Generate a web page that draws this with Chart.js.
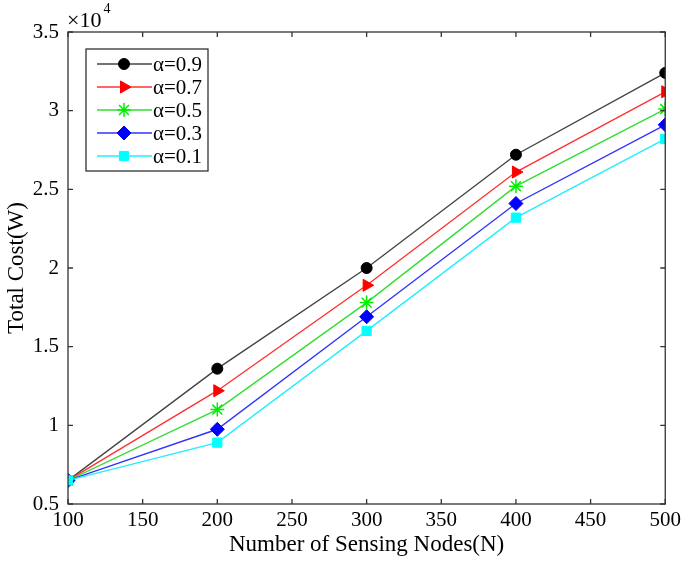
<!DOCTYPE html>
<html>
<head>
<meta charset="utf-8">
<script src="https://cdn.jsdelivr.net/npm/chart.js@4.4.0/dist/chart.umd.min.js"></script>
<style>
  html, body { margin: 0; padding: 0; background: #fff; }
  #wrap { width: 685px; height: 562px; }
</style>
</head>
<body>
<div id="wrap"><canvas id="costChart" width="685" height="562"></canvas></div>
<script>
// sensing nodes on the x axis
const nodes = [100, 200, 300, 400, 500];

// total cost (W) per alpha
const alpha09 = [6500, 13600, 20000, 27200, 32400];
const alpha07 = [6500, 12200, 18900, 26100, 31200];
const alpha05 = [6500, 11000, 17800, 25200, 30100];
const alpha03 = [6500, 9750, 16900, 24100, 29100];
const alpha01 = [6500, 8900, 16000, 23200, 28200];

const seriesLabels = ['α=0.9', 'α=0.7', 'α=0.5', 'α=0.3', 'α=0.1'];
const yTickLabels = ['0.5', '1', '1.5', '2', '2.5', '3', '3.5'];

const serif = "'Liberation Serif', 'Times New Roman', serif";

function pts(values) {
    return nodes.map((n, i) => ({ x: n, y: values[i] }));
}

function makeSet(label, values, color, lineColor, style, radius, rotation, order) {
    return {
        label: label,
        data: pts(values),
        borderColor: lineColor,
        backgroundColor: color,
        pointBackgroundColor: color,
        pointBorderColor: color,
        pointStyle: style,
        pointRadius: radius,
        pointHoverRadius: radius,
        pointRotation: rotation,
        pointBorderWidth: style === 'star' ? 1.5 : 1,
        borderWidth: 1.4,
        tension: 0,
        order: order
    };
}

const datasets = [
    makeSet(seriesLabels[0], alpha09, '#000000', '#444444', 'circle', 5.5, 0, 5),
    makeSet(seriesLabels[1], alpha07, '#ff0000', '#ff3333', 'triangle', 7, 90, 4),
    makeSet(seriesLabels[2], alpha05, '#00ee00', '#33dd33', 'star', 7, 0, 3),
    makeSet(seriesLabels[3], alpha03, '#0000ff', '#3333ff', 'rectRot', 7, 0, 2),
    makeSet(seriesLabels[4], alpha01, '#00ffff', '#22eeff', 'rect', 6.5, 0, 1)
];

// box frame, inward ticks on all four sides, x10^4 label and legend
const matlabFrame = {
    id: 'matlabFrame',
    afterDraw(c) {
        const ctx = c.ctx;
        const a = c.chartArea;
        const xs = c.scales.x;
        const ys = c.scales.y;
        ctx.save();
        ctx.strokeStyle = '#333';
        ctx.lineWidth = 1.3;
        ctx.strokeRect(a.left, a.top, a.right - a.left, a.bottom - a.top);
        ctx.beginPath();
        xs.ticks.forEach(t => {
            const px = xs.getPixelForValue(t.value);
            ctx.moveTo(px, a.bottom); ctx.lineTo(px, a.bottom - 5);
            ctx.moveTo(px, a.top); ctx.lineTo(px, a.top + 5);
        });
        ys.ticks.forEach(t => {
            const py = ys.getPixelForValue(t.value);
            ctx.moveTo(a.left, py); ctx.lineTo(a.left + 5, py);
            ctx.moveTo(a.right, py); ctx.lineTo(a.right - 5, py);
        });
        ctx.stroke();

        // exponent label
        ctx.fillStyle = '#000';
        ctx.textBaseline = 'alphabetic';
        ctx.textAlign = 'left';
        ctx.font = '22px ' + serif;
        ctx.fillText('×10', a.left - 1, a.top - 5);
        const w = ctx.measureText('×10').width;
        ctx.font = '14px ' + serif;
        ctx.fillText('4', a.left + w + 1, a.top - 19);

        // legend
        const lx = a.left + 18, ly = a.top + 17, lw = 122, lh = 122;
        ctx.fillStyle = '#fff';
        ctx.fillRect(lx, ly, lw, lh);
        ctx.strokeStyle = '#222';
        ctx.lineWidth = 1.2;
        ctx.strokeRect(lx, ly, lw, lh);
        c.data.datasets.forEach((ds, i) => {
            const ry = ly + 15 + i * 23;
            ctx.strokeStyle = ds.borderColor;
            ctx.lineWidth = ds.borderWidth;
            ctx.beginPath();
            ctx.moveTo(lx + 11, ry);
            ctx.lineTo(lx + 66, ry);
            ctx.stroke();
            ctx.fillStyle = ds.pointBackgroundColor;
            ctx.strokeStyle = ds.pointBorderColor;
            ctx.lineWidth = ds.pointBorderWidth;
            Chart.helpers.drawPoint(ctx, {
                pointStyle: ds.pointStyle,
                radius: ds.pointRadius,
                rotation: ds.pointRotation,
                borderWidth: ds.pointBorderWidth
            }, lx + 38, ry);
            ctx.fillStyle = '#000';
            ctx.font = '21px ' + serif;
            ctx.textBaseline = 'middle';
            ctx.fillText(ds.label, lx + 67, ry + 1);
        });
        ctx.restore();
    }
};

const chart = new Chart(document.getElementById('costChart').getContext('2d'), {
    type: 'line',
    data: { datasets: datasets },
    options: {
        responsive: false,
        animation: false,
        events: [],
        layout: { padding: { top: 32, right: 17, left: 0, bottom: 0 } },
        plugins: { legend: { display: false }, tooltip: { enabled: false } },
        scales: {
            x: {
                type: 'linear',
                min: 100,
                max: 500,
                grid: { display: false, drawTicks: false },
                border: { display: false },
                ticks: {
                    stepSize: 50,
                    padding: 4,
                    color: '#000',
                    maxRotation: 0,
                    font: { family: serif, size: 21 }
                },
                title: {
                    display: true,
                    text: 'Number of Sensing Nodes(N)',
                    color: '#000',
                    padding: { top: 0, bottom: 3 },
                    font: { family: serif, size: 23 }
                },
                afterFit(scale) { scale.height = 58; }
            },
            y: {
                min: 5000,
                max: 35000,
                grid: { display: false, drawTicks: false },
                border: { display: false },
                ticks: {
                    stepSize: 5000,
                    padding: 9,
                    color: '#000',
                    font: { family: serif, size: 21 },
                    callback: (v, i) => yTickLabels[i]
                },
                title: {
                    display: true,
                    text: 'Total Cost(W)',
                    color: '#000',
                    padding: { top: 3, bottom: 0 },
                    font: { family: serif, size: 23 }
                },
                afterFit(scale) { scale.width = 68; }
            }
        }
    },
    plugins: [matlabFrame]
});
</script>
</body>
</html>
